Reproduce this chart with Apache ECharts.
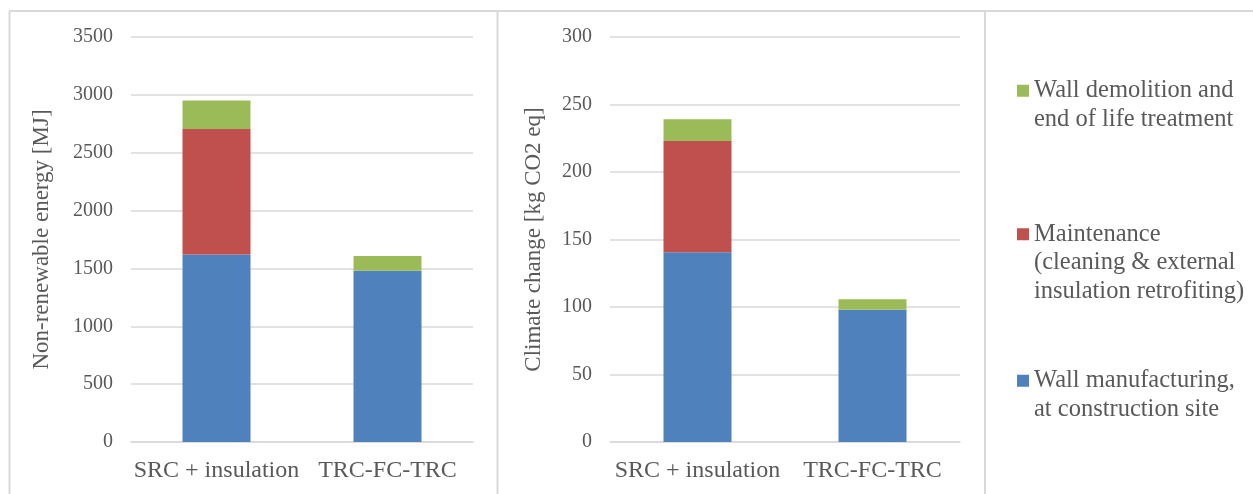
<!DOCTYPE html>
<html>
<head>
<meta charset="utf-8">
<script src="https://cdn.jsdelivr.net/npm/echarts@6/dist/echarts.min.js"></script>
<style>
html,body{margin:0;padding:0;background:#fff;}
#chart{width:1253px;height:494px;}
</style>
</head>
<body>
<div id="chart"></div>
<script>
const categories = ['SRC + insulation', 'TRC-FC-TRC'];
const seriesNames = [
  'Wall manufacturing, at construction site',
  'Maintenance (cleaning & external insulation retrofiting)',
  'Wall demolition and end of life treatment'
];
const legendLabels = [
  ['Wall manufacturing,', 'at construction site'],
  ['Maintenance', '(cleaning & external', 'insulation retrofiting)'],
  ['Wall demolition and', 'end of life treatment']
];
const seriesColors = ['#4f81bd', '#c0504d', '#9bbb59'];

// Non-renewable energy [MJ]
const energyManufacturing = [1620, 1480];
const energyMaintenance = [1086, 0];
const energyDemolition = [245, 128];

// Climate change [kg CO2 eq]
const climateManufacturing = [140.5, 98];
const climateMaintenance = [82.5, 0];
const climateDemolition = [16, 7.8];

const energyTicks = {min: 0, max: 3500, interval: 500};
const climateTicks = {min: 0, max: 300, interval: 50};

const FONT = '"Liberation Serif", "Times New Roman", serif';
const GRAY = '#595959';
const LINE = '#d9d9d9';

function makeY(idx, ticks, name, gap) {
  return {
    type: 'value', gridIndex: idx,
    min: ticks.min, max: ticks.max, interval: ticks.interval,
    name: name, nameLocation: 'middle', nameGap: gap, nameRotate: 90,
    nameTextStyle: {fontFamily: FONT, fontSize: 23, color: GRAY},
    axisLine: {show: false}, axisTick: {show: false},
    axisLabel: {fontFamily: FONT, fontSize: 20, color: GRAY, margin: 18,
                formatter: v => String(v)},
    splitLine: {lineStyle: {color: LINE, width: 1.5}}
  };
}
function makeX(idx) {
  return {
    type: 'category', gridIndex: idx, data: categories,
    axisLine: {lineStyle: {color: LINE, width: 1.5}},
    axisTick: {show: false},
    axisLabel: {fontFamily: FONT, fontSize: 24, color: GRAY, margin: 17, interval: 0}
  };
}
function bar(idx, name, data, color) {
  return {
    type: 'bar', name: name, xAxisIndex: idx, yAxisIndex: idx,
    stack: 'g' + idx, data: data, barWidth: 68,
    itemStyle: {color: color}, emphasis: {disabled: true}
  };
}
function legend(i, top) {
  const lines = legendLabels[i];
  // leading blank lines so the first text line sits level with the icon
  const text = new Array(lines.length - 1).fill('').concat(lines).join('\n');
  return {
    orient: 'vertical', left: 1012, top: top,
    itemWidth: 12, itemHeight: 12, icon: 'rect',
    data: [seriesNames[i]],
    formatter: () => text,
    textStyle: {fontFamily: FONT, fontSize: 24.5, color: GRAY, lineHeight: 28.5}
  };
}

const chart = echarts.init(document.getElementById('chart'));
chart.setOption({
  animation: false,
  backgroundColor: '#fff',
  grid: [
    {left: 131, top: 37, width: 342, height: 405},
    {left: 610, top: 37, width: 350, height: 405}
  ],
  xAxis: [makeX(0), makeX(1)],
  yAxis: [
    makeY(0, energyTicks, 'Non-renewable energy [MJ]', 78),
    makeY(1, climateTicks, 'Climate change [kg CO2 eq]', 65)
  ],
  legend: [
    legend(2, 43),
    legend(1, 158),
    legend(0, 333)
  ],
  series: [
    bar(0, seriesNames[0], energyManufacturing, seriesColors[0]),
    bar(0, seriesNames[1], energyMaintenance, seriesColors[1]),
    bar(0, seriesNames[2], energyDemolition, seriesColors[2]),
    bar(1, seriesNames[0], climateManufacturing, seriesColors[0]),
    bar(1, seriesNames[1], climateMaintenance, seriesColors[1]),
    bar(1, seriesNames[2], climateDemolition, seriesColors[2])
  ],
  graphic: [
    {type: 'line', shape: {x1: 9, y1: 11, x2: 1253, y2: 11}, style: {stroke: LINE, lineWidth: 2}},
    {type: 'line', shape: {x1: 9.5, y1: 11, x2: 9.5, y2: 494}, style: {stroke: LINE, lineWidth: 2}},
    {type: 'line', shape: {x1: 497.5, y1: 11, x2: 497.5, y2: 494}, style: {stroke: LINE, lineWidth: 2}},
    {type: 'line', shape: {x1: 985, y1: 11, x2: 985, y2: 494}, style: {stroke: LINE, lineWidth: 2}}
  ]
});
</script>
</body>
</html>
